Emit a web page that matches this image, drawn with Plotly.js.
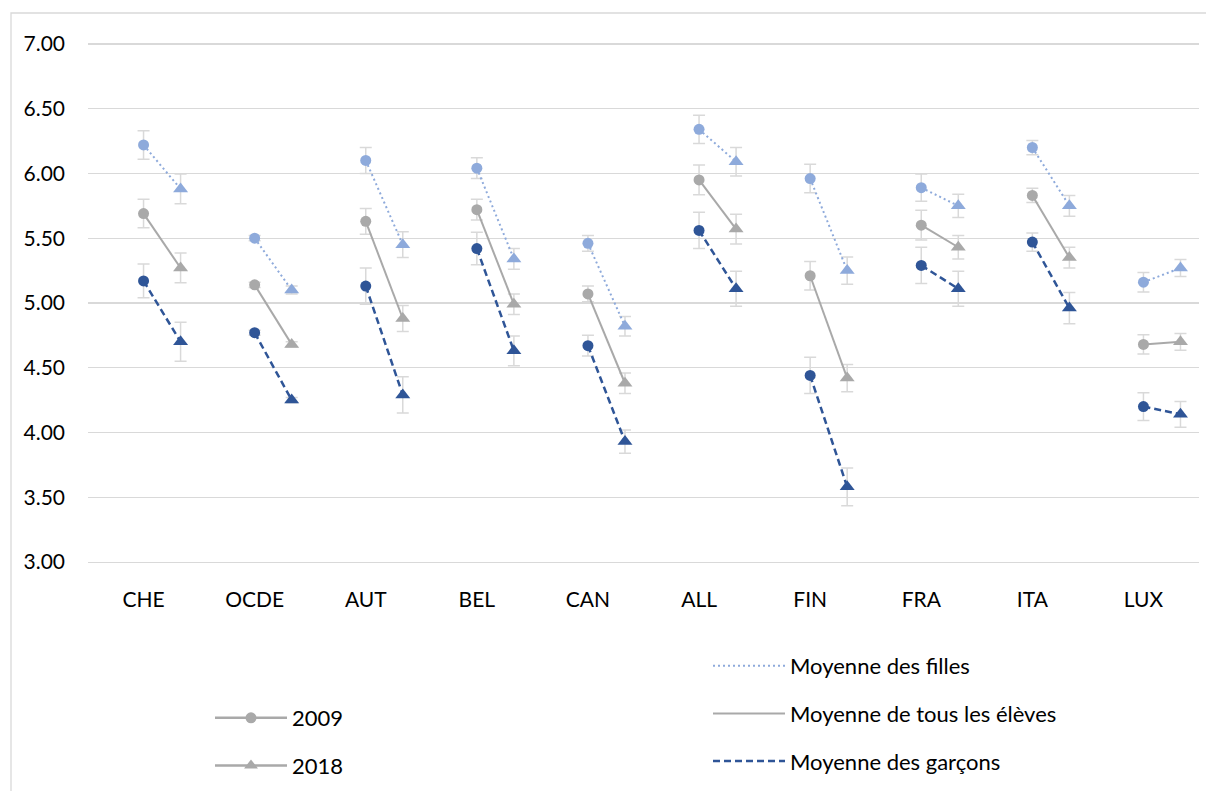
<!DOCTYPE html>
<html>
<head>
<meta charset="utf-8">
<script src="https://cdn.plot.ly/plotly-3.0.1.min.js"></script>
<style>html,body{margin:0;padding:0;background:#fff;}#chart{width:1206px;height:791px;}</style>
</head>
<body>
<div id="chart"></div>
<script>
const categories = ['CHE','OCDE','AUT','BEL','CAN','ALL','FIN','FRA','ITA','LUX'];

const girls2009 = [6.22, 5.50, 6.10, 6.04, 5.46, 6.34, 5.96, 5.89, 6.20, 5.16];
const girls2018 = [5.88, 5.10, 5.45, 5.34, 4.82, 6.09, 5.25, 5.75, 5.75, 5.27];
const all2009   = [5.69, 5.14, 5.63, 5.72, 5.07, 5.95, 5.21, 5.60, 5.83, 4.68];
const all2018   = [5.27, 4.68, 4.88, 4.99, 4.38, 5.57, 4.42, 5.43, 5.35, 4.70];
const boys2009  = [5.17, 4.77, 5.13, 5.42, 4.67, 5.56, 4.44, 5.29, 5.47, 4.20];
const boys2018  = [4.70, 4.25, 4.29, 4.63, 3.93, 5.11, 3.58, 5.11, 4.96, 4.14];

const girlsErr2009 = [0.11, 0.02, 0.10, 0.08, 0.06, 0.11, 0.11, 0.105, 0.055, 0.075];
const girlsErr2018 = [0.115, 0.03, 0.10, 0.08, 0.075, 0.11, 0.105, 0.09, 0.08, 0.065];
const allErr2009   = [0.11, 0.02, 0.10, 0.08, 0.06, 0.115, 0.11, 0.115, 0.055, 0.075];
const allErr2018   = [0.115, 0.02, 0.10, 0.08, 0.08, 0.115, 0.105, 0.09, 0.08, 0.065];
const boysErr2009  = [0.13, 0.02, 0.14, 0.125, 0.08, 0.14, 0.14, 0.14, 0.07, 0.107];
const boysErr2018  = [0.15, 0.02, 0.14, 0.115, 0.09, 0.135, 0.145, 0.135, 0.12, 0.10];

const yearLabels = ['2009', '2018'];
const seriesNames = ['Moyenne des filles', 'Moyenne de tous les élèves', 'Moyenne des garçons'];

const C_GIRLS = '#8EAADB';
const C_ALL = '#A9A9A9';
const C_BOYS = '#2F5597';
const C_ERR = '#D9D9D9';
const FONT = 'Lato, "Open Sans", sans-serif';
const DOT = '2px,3px';
const DASH = '7px,4px';
const OFFSET = 1/3;

function buildTrace(v09, v18, e09, e18, color, dash, width) {
  const x = [], y = [], err = [], sym = [], size = [];
  for (let i = 0; i < categories.length; i++) {
    x.push(i, i + OFFSET, null);
    y.push(v09[i], v18[i], null);
    err.push(e09[i], e18[i], null);
    sym.push('circle', 'triangle-up', 'circle');
    size.push(11, 13, 0);
  }
  return {
    type: 'scatter', mode: 'lines+markers', x: x, y: y,
    connectgaps: false, showlegend: false, hoverinfo: 'y',
    line: {color: color, dash: dash, width: width},
    marker: {color: color, symbol: sym, size: size, opacity: 1, line: {width: 0}},
    error_y: {type: 'data', array: err, visible: true, color: C_ERR, thickness: 1.5, width: 6}
  };
}

const data = [
  buildTrace(girls2009, girls2018, girlsErr2009, girlsErr2018, C_GIRLS, DOT, 2),
  buildTrace(all2009, all2018, allErr2009, allErr2018, C_ALL, 'solid', 2),
  buildTrace(boys2009, boys2018, boysErr2009, boysErr2018, C_BOYS, DASH, 2.5),
  // legend-only entries
  {type:'scatter', mode:'lines+markers', x:[null], y:[null], name: yearLabels[0], legend:'legend', legendgroup:'a',
   line:{color:C_ALL, width:2.5}, marker:{color:C_ALL, symbol:'circle', size:11}},
  {type:'scatter', mode:'lines+markers', x:[null], y:[null], name: yearLabels[1], legend:'legend', legendgroup:'b',
   line:{color:C_ALL, width:2.5}, marker:{color:C_ALL, symbol:'triangle-up', size:12}},
  {type:'scatter', mode:'lines', x:[null], y:[null], name: seriesNames[0], legend:'legend2', legendgroup:'c',
   line:{color:C_GIRLS, width:2, dash:DOT}},
  {type:'scatter', mode:'lines', x:[null], y:[null], name: seriesNames[1], legend:'legend2', legendgroup:'d',
   line:{color:C_ALL, width:2}},
  {type:'scatter', mode:'lines', x:[null], y:[null], name: seriesNames[2], legend:'legend2', legendgroup:'e',
   line:{color:C_BOYS, width:2.5, dash:DASH}}
];

const W = 1206, H = 791;
const PL = 88, PR = 1199, PT = 40, PB = 562;
function fx(p) { return p / W; }
function fy(p) { return 1 - p / H; }

const legendCommon = {
  xref: 'paper', yref: 'paper', xanchor: 'left', yanchor: 'top',
  bgcolor: 'rgba(0,0,0,0)', borderwidth: 0,
  font: {family: FONT, size: 22, color: '#000'},
  itemwidth: 72, tracegroupgap: 16, traceorder: 'grouped', orientation: 'v'
};

const layout = {
  width: W, height: H,
  margin: {l: 0, r: 0, t: 0, b: 0, pad: 0},
  paper_bgcolor: '#fff', plot_bgcolor: '#fff',
  font: {family: FONT, size: 21, color: '#000'},
  showlegend: true,
  xaxis: {
    domain: [fx(PL), fx(PR)],
    range: [-0.5, categories.length - 0.5],
    tickmode: 'array', tickvals: categories.map((c, i) => i), ticktext: categories,
    showgrid: false, zeroline: false, showline: true, linecolor: C_ERR, linewidth: 1.3,
    ticks: '', ticklabelstandoff: 18, tickangle: 0, automargin: false, fixedrange: true,
    tickfont: {family: FONT, size: 21, color: '#000'}
  },
  yaxis: {
    domain: [fy(PB), fy(PT)],
    range: [3, 7.03], dtick: 0.5, tick0: 3, tickformat: '.2f',
    showgrid: true, gridcolor: C_ERR, gridwidth: 1.3, zeroline: false, showline: false,
    ticks: '', ticklabelstandoff: 22, automargin: false, fixedrange: true,
    tickfont: {family: FONT, size: 21, color: '#000'}
  },
  legend: Object.assign({}, legendCommon, {x: fx(210), y: fy(697)}),
  legend2: Object.assign({}, legendCommon, {x: fx(708), y: fy(645)}),
  shapes: [{
    type: 'rect', xref: 'paper', yref: 'paper', layer: 'below',
    x0: fx(11), x1: fx(1212), y0: fy(800), y1: fy(13),
    line: {color: C_ERR, width: 1.3}
  }]
};

Plotly.newPlot('chart', data, layout, {displayModeBar: false, staticPlot: true});
</script>
</body>
</html>
